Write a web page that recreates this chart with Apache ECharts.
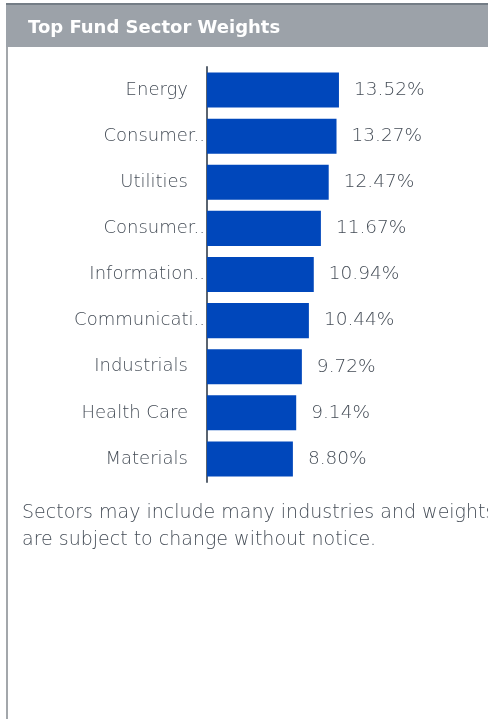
<!DOCTYPE html>
<html>
<head>
<meta charset="utf-8">
<script src="https://cdn.jsdelivr.net/npm/echarts@6/dist/echarts.min.js"></script>
<style>
  html, body { margin: 0; padding: 0; background: #ffffff; }
  #chart { width: 488px; height: 719px; }
</style>
</head>
<body>
<div id="chart"></div>
<script>
// Sector names as shown on the axis (long names are cut with "..")
var sectors = ['Energy', 'Consumer..', 'Utilities', 'Consumer..', 'Information..',
               'Communicati..', 'Industrials', 'Health Care', 'Materials'];
// Weight of each sector, in percent
var weights = [13.52, 13.27, 12.47, 11.67, 10.94, 10.44, 9.72, 9.14, 8.80];

var panelTitle = 'Top Fund Sector Weights';
var footnoteLines = ['Sectors may include many industries and weights',
                     'are subject to change without notice.'];

var textGray = '#444c56';
var fontFamily = '"DejaVu Sans", sans-serif';
var lightWeight = 200;

var chart = echarts.init(document.getElementById('chart'), null, { renderer: 'canvas' });

chart.setOption({
  animation: false,
  backgroundColor: '#ffffff',
  title: {
    text: panelTitle,
    left: 23,
    top: 14,
    textStyle: { color: '#ffffff', fontSize: 18, fontWeight: 'bold', fontFamily: fontFamily }
  },
  grid: { left: 207, top: 67, height: 415, right: 37 },
  xAxis: {
    type: 'value',
    min: 0,
    max: 25,
    show: false
  },
  yAxis: {
    type: 'category',
    inverse: true,
    data: sectors,
    axisLine: { show: true, lineStyle: { color: '#5a6470', width: 2 } },
    axisTick: { show: false },
    axisLabel: {
      margin: 2,
      color: textGray,
      fontSize: 18,
      fontWeight: lightWeight,
      fontFamily: fontFamily,
      formatter: function (v) {
        return v.slice(-2) === '..' ? '{cut|' + v + '}' : '{full|' + v + '}';
      },
      rich: {
        cut: { color: textGray, fontSize: 18, fontWeight: lightWeight, fontFamily: fontFamily },
        full: { color: textGray, fontSize: 18, fontWeight: lightWeight, fontFamily: fontFamily, padding: [0, 17, 0, 0] }
      }
    }
  },
  series: [{
    type: 'bar',
    data: weights,
    barCategoryGap: '24%',
    itemStyle: { color: '#0047bb' },
    label: {
      show: true,
      position: 'right',
      distance: 15,
      color: textGray,
      fontSize: 18.5,
      fontWeight: lightWeight,
      fontFamily: fontFamily,
      formatter: function (p) { return p.value.toFixed(2) + '%'; }
    }
  }],
  graphic: [
    // header band and its darker top rule
    { type: 'rect', z: -1, shape: { x: 6, y: 4, width: 482, height: 43 }, style: { fill: '#9ca2a9' } },
    { type: 'rect', z: -1, shape: { x: 6, y: 3, width: 482, height: 2 }, style: { fill: '#747d86' } },
    // left border of the panel
    { type: 'rect', z: -1, shape: { x: 6, y: 47, width: 2, height: 672 }, style: { fill: '#a3a7ab' } },
    // footnote
    {
      type: 'text',
      left: 22,
      top: 500,
      style: {
        text: footnoteLines.join('\n'),
        fill: textGray,
        fontSize: 19,
        fontWeight: lightWeight,
        lineHeight: 27,
        fontFamily: fontFamily
      }
    }
  ]
});
</script>
</body>
</html>
